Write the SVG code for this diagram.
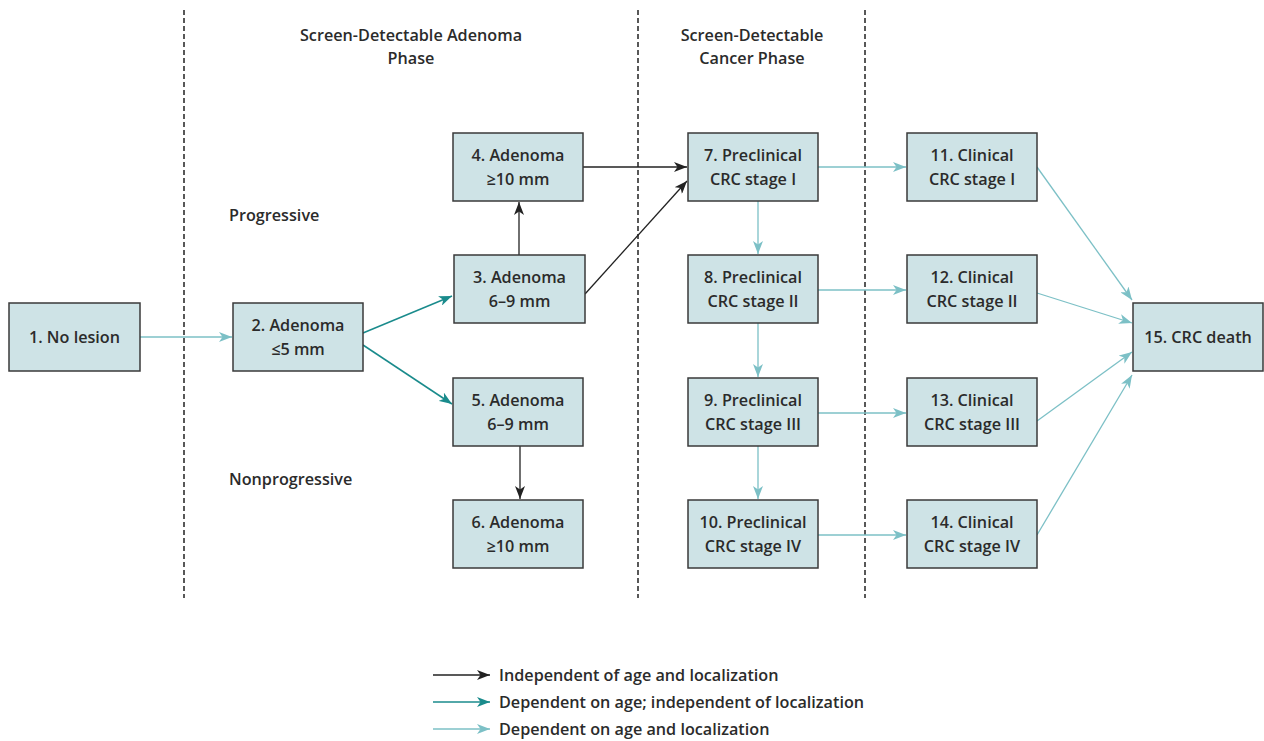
<svg xmlns="http://www.w3.org/2000/svg" width="1264" height="741" viewBox="0 0 1264 741">
<style>
.box{fill:#cee3e6;stroke:#3a3a3a;stroke-width:1.5}
.t{font-family:"Open Sans","Noto Sans",sans-serif;font-weight:600;font-size:16.2px;fill:#2b2b2b;text-anchor:middle}
.tl{font-family:"Open Sans","Noto Sans",sans-serif;font-weight:600;font-size:16.2px;fill:#2b2b2b}
.dash{stroke:#222;stroke-width:1.5;stroke-dasharray:5,3;fill:none}
.k{stroke:#222;stroke-width:1.3;fill:none;marker-end:url(#mk)}
.g{stroke:#1a8b8c;stroke-width:1.5;fill:none;marker-end:url(#mg)}
.l{stroke:#7cc0c6;stroke-width:1.3;fill:none;marker-end:url(#ml)}
</style>
<defs>
<marker id="mk" markerWidth="14" markerHeight="10" refX="13" refY="5" orient="auto" markerUnits="userSpaceOnUse"><path d="M0,0 L13,5 L0,10 L3.5,5 z" fill="#222"/></marker>
<marker id="mg" markerWidth="14" markerHeight="10" refX="13" refY="5" orient="auto" markerUnits="userSpaceOnUse"><path d="M0,0 L13,5 L0,10 L3.5,5 z" fill="#1a8b8c"/></marker>
<marker id="ml" markerWidth="14" markerHeight="10" refX="13" refY="5" orient="auto" markerUnits="userSpaceOnUse"><path d="M0,0 L13,5 L0,10 L3.5,5 z" fill="#7cc0c6"/></marker>
</defs>
<rect width="1264" height="741" fill="#fff"/>
<g id="dividers">
<line class="dash" x1="184" y1="10" x2="184" y2="598"/>
<line class="dash" x1="638" y1="10" x2="638" y2="598"/>
<line class="dash" x1="865" y1="10" x2="865" y2="598"/>
</g>
<g id="headers">
<text class="t" x="411" y="41">Screen-Detectable Adenoma</text>
<text class="t" x="411" y="64">Phase</text>
<text class="t" x="752" y="41">Screen-Detectable</text>
<text class="t" x="752" y="64">Cancer Phase</text>
<text class="tl" x="229" y="221">Progressive</text>
<text class="tl" x="229" y="485">Nonprogressive</text>
</g>
<g id="connectors">
<line class="l" x1="140" y1="337" x2="232" y2="337"/>
<line class="g" x1="363" y1="333" x2="452" y2="296"/>
<line class="g" x1="363" y1="345" x2="452" y2="404"/>
<line class="k" x1="519" y1="255" x2="519" y2="202"/>
<line class="k" x1="583" y1="167" x2="687" y2="167"/>
<line class="k" x1="585" y1="294" x2="687" y2="181"/>
<line class="k" x1="520" y1="446" x2="520" y2="499"/>
<line class="l" x1="818" y1="167" x2="906" y2="167"/>
<line class="l" x1="758" y1="201" x2="758" y2="254"/>
<line class="l" x1="818" y1="290" x2="906" y2="290"/>
<line class="l" x1="758" y1="323" x2="758" y2="377"/>
<line class="l" x1="818" y1="413" x2="906" y2="413"/>
<line class="l" x1="758" y1="446" x2="758" y2="499"/>
<line class="l" x1="818" y1="535" x2="906" y2="535"/>
<line class="l" x1="1037" y1="167" x2="1132" y2="300"/>
<line class="l" x1="1037" y1="293" x2="1132" y2="323"/>
<line class="l" x1="1037" y1="421" x2="1132" y2="352"/>
<line class="l" x1="1037" y1="535" x2="1132" y2="375"/>
</g>
<g id="n1"><rect class="box" x="9" y="303" width="131" height="68"/><text class="t" x="74.5" y="343">1. No lesion</text></g>
<g id="n2"><rect class="box" x="233" y="303" width="130" height="68"/><text class="t" x="298" y="331">2. Adenoma</text><text class="t" x="298" y="355">≤5 mm</text></g>
<g id="n4"><rect class="box" x="453" y="133" width="130" height="68"/><text class="t" x="518" y="161">4. Adenoma</text><text class="t" x="518" y="185">≥10 mm</text></g>
<g id="n3"><rect class="box" x="454" y="255" width="131" height="68"/><text class="t" x="519.5" y="283">3. Adenoma</text><text class="t" x="519.5" y="307">6–9 mm</text></g>
<g id="n5"><rect class="box" x="453" y="378" width="130" height="68"/><text class="t" x="518" y="406">5. Adenoma</text><text class="t" x="518" y="430">6–9 mm</text></g>
<g id="n6"><rect class="box" x="453" y="500" width="130" height="68"/><text class="t" x="518" y="528">6. Adenoma</text><text class="t" x="518" y="552">≥10 mm</text></g>
<g id="n7"><rect class="box" x="688" y="133" width="130" height="68"/><text class="t" x="753" y="161">7. Preclinical</text><text class="t" x="753" y="185">CRC stage I</text></g>
<g id="n8"><rect class="box" x="688" y="255" width="130" height="68"/><text class="t" x="753" y="283">8. Preclinical</text><text class="t" x="753" y="307">CRC stage II</text></g>
<g id="n9"><rect class="box" x="688" y="378" width="130" height="68"/><text class="t" x="753" y="406">9. Preclinical</text><text class="t" x="753" y="430">CRC stage III</text></g>
<g id="n10"><rect class="box" x="688" y="500" width="130" height="68"/><text class="t" x="753" y="528">10. Preclinical</text><text class="t" x="753" y="552">CRC stage IV</text></g>
<g id="n11"><rect class="box" x="907" y="133" width="130" height="68"/><text class="t" x="972" y="161">11. Clinical</text><text class="t" x="972" y="185">CRC stage I</text></g>
<g id="n12"><rect class="box" x="907" y="255" width="130" height="68"/><text class="t" x="972" y="283">12. Clinical</text><text class="t" x="972" y="307">CRC stage II</text></g>
<g id="n13"><rect class="box" x="907" y="378" width="130" height="68"/><text class="t" x="972" y="406">13. Clinical</text><text class="t" x="972" y="430">CRC stage III</text></g>
<g id="n14"><rect class="box" x="907" y="500" width="130" height="68"/><text class="t" x="972" y="528">14. Clinical</text><text class="t" x="972" y="552">CRC stage IV</text></g>
<g id="n15"><rect class="box" x="1133" y="303" width="130" height="68"/><text class="t" x="1198" y="343">15. CRC death</text></g>
<g id="legend">
<line class="k" x1="433" y1="675" x2="490" y2="675"/>
<line class="g" x1="433" y1="702" x2="490" y2="702"/>
<line class="l" x1="433" y1="729" x2="490" y2="729"/>
<text class="tl" x="499" y="681">Independent of age and localization</text>
<text class="tl" x="499" y="708">Dependent on age; independent of localization</text>
<text class="tl" x="499" y="735">Dependent on age and localization</text>
</g>
</svg>
